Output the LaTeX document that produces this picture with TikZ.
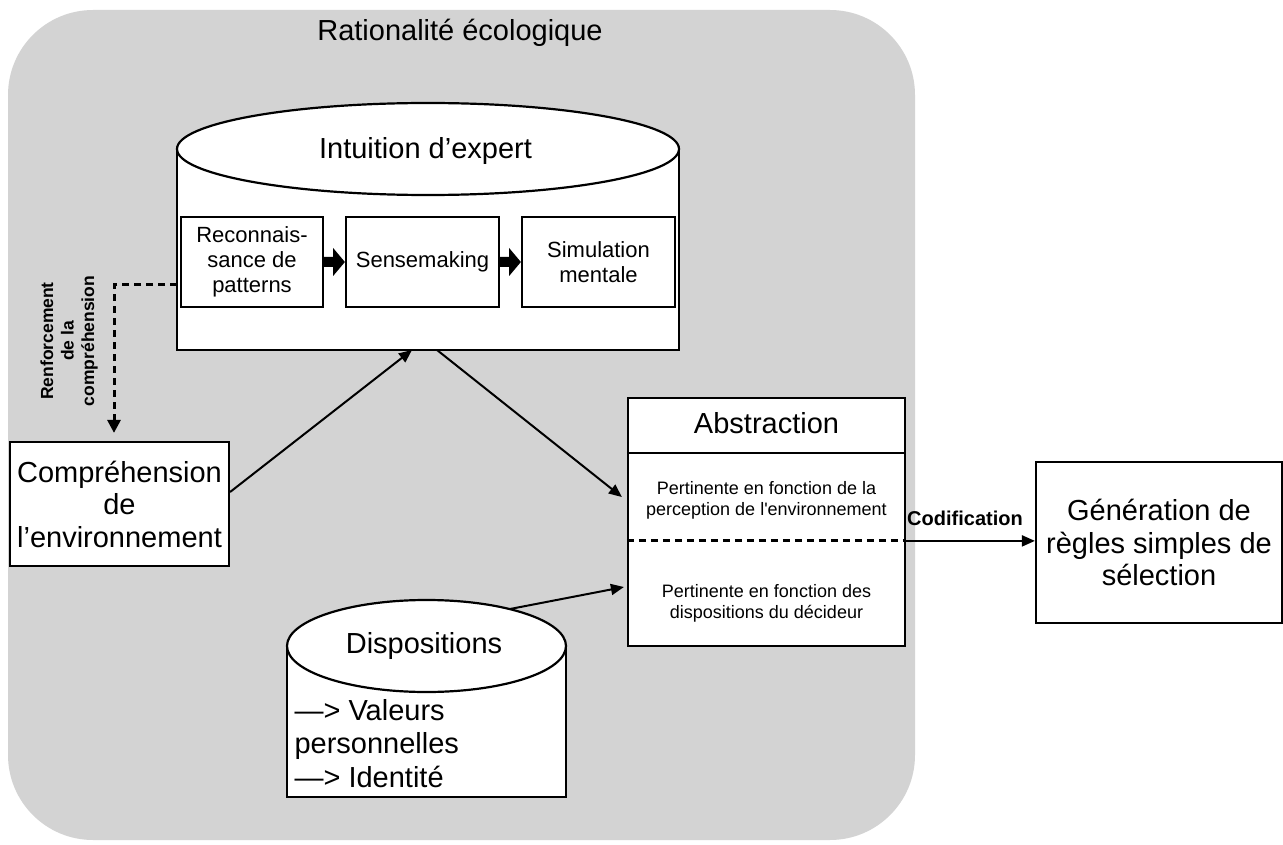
\documentclass[tikz,border=0pt]{standalone}
\usepackage{fontspec}
\setmainfont{Liberation Sans}[Ligatures=TeXOff]
\usetikzlibrary{arrows.meta}
\definecolor{bggray}{HTML}{D3D3D3}
\begin{document}
\begin{tikzpicture}[x=1pt,y=-1pt,
  shapebox/.style={draw, line width=2.2pt, fill=white, inner sep=0pt, align=center},
  ghost/.style={inner sep=0pt, outer sep=0pt},
  big/.style={font=\fontsize{29}{32.5}\selectfont},
  mid/.style={font=\fontsize{22}{25}\selectfont},
  small/.style={font=\fontsize{18}{21}\selectfont},
  conn/.style={line width=2pt, -{Triangle[length=13pt,width=11pt]}},
  dashline/.style={line width=3pt, dash pattern=on 7pt off 5pt},
  blockarrow/.style={fill=black},
  outline/.style={line width=2.2pt},
]
\useasboundingbox (0,0) rectangle (1283,845);

% background container
\node[fill=bggray, rounded corners=85pt, minimum width=907pt, minimum height=830pt, ghost] (eco) at (461.5,425) {};
\node[big] (title) at (460,33) {Rationalité écologique};

% Intuition d'expert cylinder
\node[ghost, minimum width=502pt, minimum height=247pt] (intu) at (428,226.5) {};
\fill[white] ([yshift=-46pt]intu.north west) rectangle (intu.south east);
\draw[outline] ([yshift=-46pt]intu.north west) -- (intu.south west) -- (intu.south east) -- ([yshift=-46pt]intu.north east);
\draw[outline, fill=white] ([yshift=-46pt]intu.north) ellipse [x radius=251pt, y radius=46pt];
\node[big] (intuT) at (425.5,151) {Intuition d’expert};

\node[shapebox, mid, minimum width=142pt, minimum height=90pt] (r1) at (252,262) {Reconnais-\\sance de\\patterns};
\node[shapebox, mid, minimum width=153pt, minimum height=90pt] (r2) at (422.5,262) {Sensemaking};
\node[shapebox, mid, minimum width=153pt, minimum height=90pt] (r3) at (598.5,262) {Simulation\\mentale};
\fill[blockarrow] ([yshift=5pt]r1.east) -- ([xshift=9pt,yshift=5pt]r1.east) -- ([xshift=9pt,yshift=14pt]r1.east) -- (r2.west) -- ([xshift=9pt,yshift=-14pt]r1.east) -- ([xshift=9pt,yshift=-5pt]r1.east) -- ([yshift=-5pt]r1.east) -- cycle;
\fill[blockarrow] ([yshift=5pt]r2.east) -- ([xshift=9pt,yshift=5pt]r2.east) -- ([xshift=9pt,yshift=14pt]r2.east) -- (r3.west) -- ([xshift=9pt,yshift=-14pt]r2.east) -- ([xshift=9pt,yshift=-5pt]r2.east) -- ([yshift=-5pt]r2.east) -- cycle;

% Compréhension
\node[shapebox, big, minimum width=219pt, minimum height=124pt] (comp) at (119.5,504) {Compréhension\\de\\l’environnement};

% Dispositions cylinder
\node[ghost, minimum width=279pt, minimum height=197pt] (disp) at (426.5,698.5) {};
\fill[white] ([yshift=-46pt]disp.north west) rectangle (disp.south east);
\draw[outline] ([yshift=-46pt]disp.north west) -- (disp.south west) -- (disp.south east) -- ([yshift=-46pt]disp.north east);
\draw[outline, fill=white] ([yshift=-46pt]disp.north) ellipse [x radius=139.5pt, y radius=46pt];
\node[big] (dispT) at (424,646) {Dispositions};
\node[big, align=left, anchor=west, font=\fontsize{29}{33.5}\selectfont] (dispL) at (291,743.5) {—> Valeurs\\personnelles\\—> Identité};

% Abstraction
\node[shapebox, minimum width=277pt, minimum height=248pt] (abs) at (766.5,522) {};
\draw[outline] ([yshift=-56pt]abs.north west) -- ([yshift=-56pt]abs.north east);
\coordinate (absDW) at ([yshift=-144pt]abs.north west);
\coordinate (absDE) at ([yshift=-144pt]abs.north east);
\draw[dashline] (absDW) -- (absDE);
\node[big] (absT) at (766.5,423) {Abstraction};
\node[small, align=center] (abs1) at (766.5,500) {Pertinente en fonction de la\\perception de l'environnement};
\node[small, align=center] (abs2) at (766.5,603) {Pertinente en fonction des\\dispositions du décideur};

% Génération
\node[shapebox, big, minimum width=246pt, minimum height=161pt] (gen) at (1159,542.5) {Génération de\\règles simples de\\sélection};

% connectors
\draw[conn] ([yshift=12pt]comp.east) -- ([xshift=-16pt]intu.south);
\draw[conn] ([xshift=9pt]intu.south) -- ([xshift=-5pt,yshift=25pt]abs.west);
\draw[conn] ([xshift=83.5pt,yshift=-9pt]disp.north) -- ([xshift=-3pt,yshift=-65pt]abs.west);
\draw[conn] (absDE) -- (gen.west |- absDE);
\node[font=\bfseries\fontsize{20}{24}\selectfont] (codif) at (965,518) {Codification};

\draw[dashline, -{Triangle[length=13pt,width=13pt]}, shorten >=8pt] ([yshift=-58.5pt]intu.west) -| ([xshift=-5.5pt]comp.north);
\node[rotate=90, align=center, font=\bfseries\fontsize{17.5}{20.5}\selectfont] (renf) at (69,341) {Renforcement\\de la\\compréhension};
\end{tikzpicture}
\end{document}
